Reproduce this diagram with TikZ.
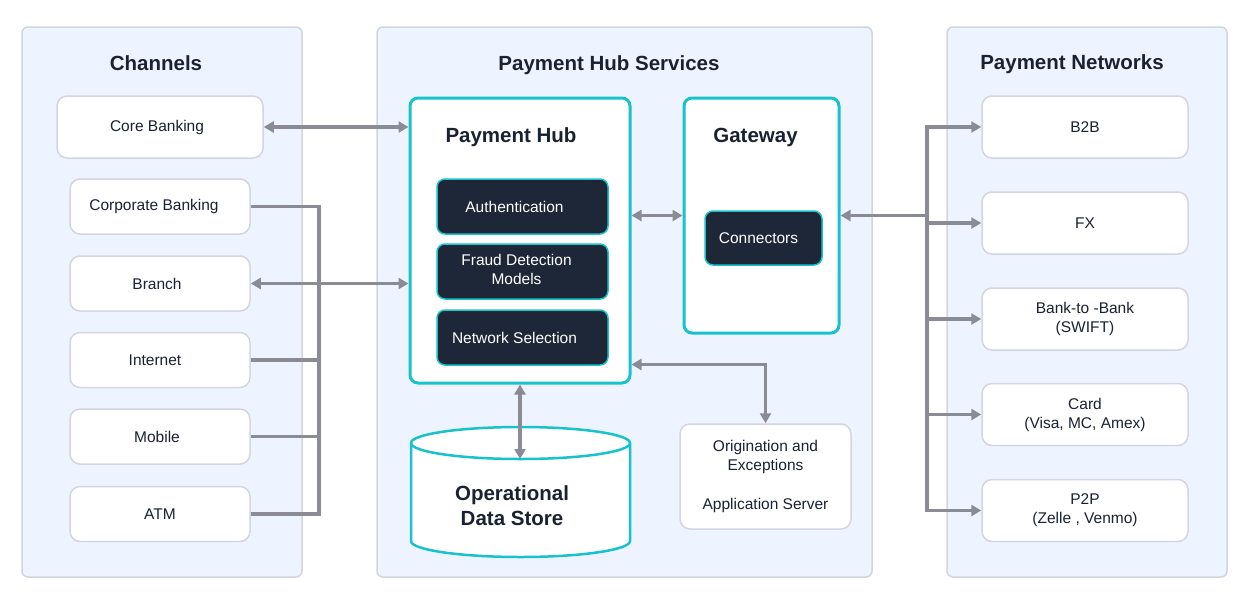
\documentclass[tikz,border=0pt]{standalone}
\usepackage{fontspec}
\setmainfont{Liberation Sans}
\usetikzlibrary{arrows.meta,calc}
\definecolor{panelfill}{HTML}{EEF4FF}
\definecolor{paneldraw}{HTML}{D2D5E0}
\definecolor{boxdraw}{HTML}{D4D5E2}
\definecolor{hubcyan}{HTML}{17C2CC}
\definecolor{darkfill}{HTML}{1D2737}
\definecolor{arrowc}{HTML}{8B8B96}
\definecolor{txt}{HTML}{1A2130}
\tikzset{
  panel/.style={draw=paneldraw, fill=panelfill, line width=1.5pt, rounded corners=6pt, inner sep=0pt},
  wbox/.style={draw=boxdraw, fill=white, line width=1.5pt, rounded corners=10pt, inner sep=0pt, align=center, text=txt, font=\fontsize{15.5}{19}\selectfont},
  cbox/.style={draw=hubcyan, fill=white, line width=3pt, rounded corners=8pt, inner sep=0pt},
  dbox/.style={draw=hubcyan, fill=darkfill, line width=1.5pt, rounded corners=8pt, inner sep=0pt, align=center, text=white, font=\fontsize{15.5}{19}\selectfont},
  ttl/.style={font=\bfseries\fontsize{20.5}{25}\selectfont, text=txt, align=center, inner sep=0pt},
  plain/.style={draw=arrowc, line width=3.2pt},
  arr/.style={plain, -{Triangle[length=10pt,width=11pt]}},
  bi/.style={plain, {Triangle[length=10pt,width=11pt]}-{Triangle[length=10pt,width=11pt]}},
}
\begin{document}
\begin{tikzpicture}[x=1pt,y=-1pt]
\fill[white] (0,0) rectangle (1249,606);
\useasboundingbox (0,0) rectangle (1249,606);

% panels
\node[panel, minimum width=280pt, minimum height=550pt] (pchan) at (162,302) {};
\node[panel, minimum width=495pt, minimum height=550pt] (phub) at (624.5,302) {};
\node[panel, minimum width=280pt, minimum height=550pt] (pnet) at (1087,302) {};
\node[ttl] (tchan) at (156,63) {Channels};
\node[ttl] (thub) at (609,65) {Payment Hub Services};
\node[ttl] (tnet) at (1072,64) {Payment Networks};

% channels
\node[wbox, minimum width=206pt, minimum height=62pt] (core) at (160,127) {Core Banking\hspace*{6pt}};
\node[wbox, minimum width=180pt, minimum height=55pt] (corp) at (160,206.5) {Corporate Banking\hspace*{12pt}};
\node[wbox, minimum width=180pt, minimum height=55pt] (branch) at (160,283.5) {Branch\hspace*{6pt}};
\node[wbox, minimum width=180pt, minimum height=55pt] (inet) at (160,360) {Internet\hspace*{10pt}};
\node[wbox, minimum width=180pt, minimum height=55pt] (mob) at (160,436.5) {Mobile\hspace*{6pt}};
\node[wbox, minimum width=180pt, minimum height=55pt] (atm) at (160,514) {ATM};

% hub
\node[cbox, minimum width=220pt, minimum height=285pt] (hub) at (520,240.5) {};
\node[ttl] (thubb) at (511,137) {Payment Hub};
\node[dbox, minimum width=171pt, minimum height=55pt] (auth) at (522.5,206.5) {Authentication\hspace*{16pt}};
\node[dbox, minimum width=171pt, minimum height=55pt, align=none] (fraud) at (522.5,271.5) {\begin{tabular}{@{}c@{}}Fraud Detection\\Models\end{tabular}\hspace*{12pt}};
\node[dbox, minimum width=171pt, minimum height=55pt] (netsel) at (522.5,337.5) {Network Selection\hspace*{16pt}};

% gateway
\node[cbox, minimum width=155pt, minimum height=235pt] (gw) at (761.5,215.5) {};
\node[ttl] (tgw) at (755.5,137) {Gateway};
\node[dbox, minimum width=117pt, minimum height=54pt] (conn) at (763.5,238) {Connectors\hspace*{10pt}};

% ODS cylinder
\path[fill=white, draw=hubcyan, line width=2.5pt]
  (411,443) -- (411,541) arc[start angle=180, end angle=360, x radius=109.5pt, y radius=16pt]
  -- (630,443) arc[start angle=0, end angle=180, x radius=109.5pt, y radius=16pt] -- cycle;
\draw[draw=hubcyan, line width=2.5pt] (411,443) arc[start angle=180, end angle=360, x radius=109.5pt, y radius=16pt];
\node[ttl] (ods) at (512,506) {Operational\\Data Store};
\coordinate (odstop) at (520,459);

% origination
\node[wbox, minimum width=171pt, minimum height=105pt] (orig) at (765.5,476.5) {Origination and\\Exceptions\\[20pt]Application Server};

% networks
\node[wbox, minimum width=206pt, minimum height=62pt] (b2b) at (1085,127) {B2B};
\node[wbox, minimum width=206pt, minimum height=62pt] (fx) at (1085,223) {FX};
\node[wbox, minimum width=206pt, minimum height=62pt] (b2bk) at (1085,319) {Bank-to -Bank\\(SWIFT)};
\node[wbox, minimum width=206pt, minimum height=62pt] (card) at (1085,414.5) {Card\\(Visa, MC, Amex)};
\node[wbox, minimum width=206pt, minimum height=62pt] (p2p) at (1085,510.5) {P2P\\(Zelle , Venmo)};

% left connectors
\coordinate (lbx) at (319,0);
\draw[plain] (corp.east) -- (corp.east -| lbx) -- (atm.east -| lbx) -- (atm.east);
\draw[plain] (inet.east) -- (inet.east -| lbx);
\draw[plain] (mob.east) -- (mob.east -| lbx);
\draw[bi] (core.east) -- (core.east -| hub.west);
\draw[bi] (branch.east) -- (branch.east -| hub.west);

% hub connectors
\draw[bi] (gw.west -| hub.east) -- (gw.west);
\draw[bi] (hub.south) -- (odstop);
\coordinate (hubo) at ($(hub.south east)+(0,-20)$);
\draw[bi] (hubo) -| (orig.north);

% network bus
\coordinate (rbx) at (927,0);
\draw[arr] (p2p.west -| rbx) |- (b2b.west);
\draw[arr] (b2b.west -| rbx) |- (p2p.west);
\draw[arr] (fx.west -| rbx) -- (fx.west);
\draw[arr] (b2bk.west -| rbx) -- (b2bk.west);
\draw[arr] (card.west -| rbx) -- (card.west);
\draw[arr] (gw.east -| rbx) -- (gw.east);
\end{tikzpicture}
\end{document}
